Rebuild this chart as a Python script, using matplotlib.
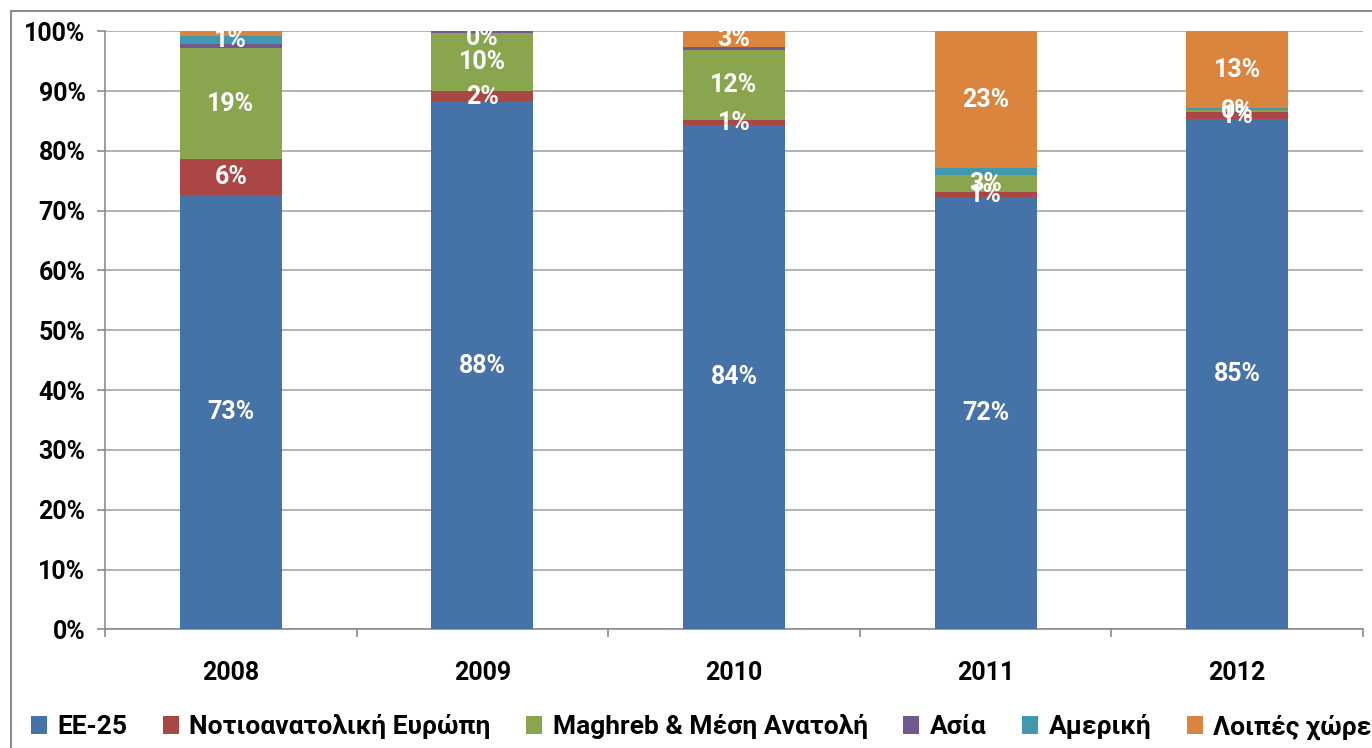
import matplotlib
matplotlib.use("Agg")
import matplotlib.pyplot as plt
from matplotlib.patches import Rectangle, Patch
from matplotlib.ticker import FixedLocator, PercentFormatter
import numpy as np

plt.rcParams['font.family'] = ['Roboto', 'DejaVu Sans']
plt.rcParams['font.weight'] = 'bold'

years = ["2008", "2009", "2010", "2011", "2012"]
series_names = ["ΕΕ-25", "Νοτιοανατολική Ευρώπη", "Maghreb & Μέση Ανατολή",
                "Ασία", "Αμερική", "Λοιπές χώρες"]
ee25 = [72.7, 88.1, 84.3, 72.3, 85.3]
se_europe = [5.9, 1.9, 0.8, 0.8, 1.2]
maghreb = [18.6, 9.7, 11.7, 2.8, 0.3]
asia = [0.6, 0.3, 0.5, 0.0, 0.1]
america = [1.4, 0.0, 0.0, 1.2, 0.3]
other = [0.8, 0.0, 2.7, 22.9, 12.8]
series_values = [ee25, se_europe, maghreb, asia, america, other]

# which data labels are visible in the original chart
label_shown = [
    [True, True, True, True, True],
    [True, True, True, True, True],
    [True, True, True, True, True],
    [False, True, False, False, False],
    [True, False, False, False, False],
    [False, False, True, True, True],
]

colors = ["#4572A7", "#AA4643", "#89A54E", "#71588F", "#4198AF", "#DB843D"]

W, H = 1372, 748
fig = plt.figure(figsize=(W / 100, H / 100), dpi=100)
ax = fig.add_axes([105 / W, (H - 629.3) / H, 1258 / W, 598 / H])

x = np.arange(len(years))
bottom = np.zeros(len(years))
for vals, col, flags in zip(series_values, colors, label_shown):
    v = np.array(vals)
    ax.bar(x, v, bottom=bottom, width=0.405, color=col, zorder=3)
    for i in range(len(years)):
        if flags[i]:
            yc = min(bottom[i] + v[i] / 2, 98.9)
            ax.text(x[i], yc, f"{v[i]:.0f}%", ha='center', va='center',
                    color='white', fontsize=18, fontweight='bold', zorder=5,
                    clip_on=True)
    bottom += v

ax.set_xlim(-0.5, len(years) - 0.5)
ax.set_ylim(0, 100)
ax.yaxis.set_major_locator(FixedLocator(np.arange(0, 101, 10)))
ax.yaxis.set_major_formatter(PercentFormatter(decimals=0))
ax.grid(axis='y', color='#a6a6a6', linewidth=1.2, zorder=0)

ax.xaxis.set_major_locator(FixedLocator(np.arange(-0.5, len(years), 1.0)))
ax.xaxis.set_major_formatter(plt.NullFormatter())
ax.xaxis.set_minor_locator(FixedLocator(x))
ax.set_xticklabels(years, minor=True)
ax.tick_params(axis='x', which='minor', length=0, pad=23, labelsize=18)
ax.tick_params(axis='x', which='major', length=6, color='#8c8c8c', width=1.2)
ax.tick_params(axis='y', length=6, color='#8c8c8c', width=1.2, pad=8,
               labelsize=18)
for lab in ax.get_xticklabels(minor=True) + ax.get_yticklabels():
    lab.set_fontweight('bold')

for s in ['top', 'right']:
    ax.spines[s].set_visible(False)
for s in ['left', 'bottom']:
    ax.spines[s].set_color('#8c8c8c')
    ax.spines[s].set_linewidth(1.2)

# chart area border
fig.patches.append(Rectangle((11 / W, -0.05), 1.1, (H - 11) / H + 0.05,
                             transform=fig.transFigure, fill=False,
                             edgecolor='#8c8c8c', linewidth=1.5))

handles = [Patch(facecolor=c, edgecolor='none') for c in colors]
fig.legend(handles, series_names, loc='center left',
           bbox_to_anchor=(20 / W, (H - 727) / H), ncol=6, frameon=False,
           prop={'weight': 'bold', 'size': 19},
           handlelength=0.62, handleheight=0.62, handletextpad=0.4,
           columnspacing=1.33, borderaxespad=0)

fig.savefig("out.png", dpi=100)
